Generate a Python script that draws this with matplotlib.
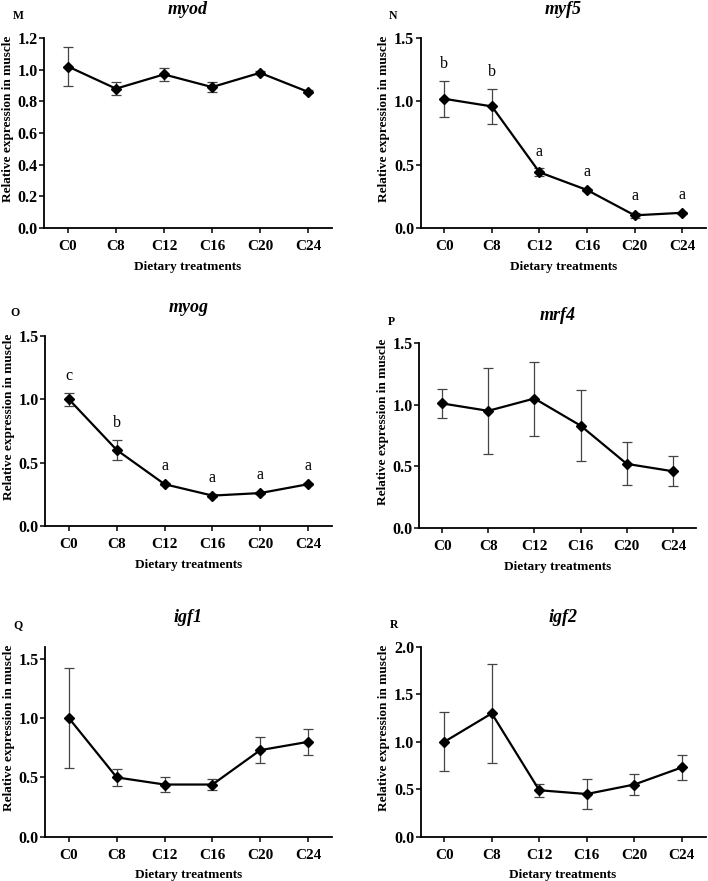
import matplotlib
matplotlib.use("Agg")
import matplotlib.pyplot as plt
from matplotlib.ticker import FormatStrFormatter, MultipleLocator

plt.rcParams['font.family'] = ['Liberation Serif', 'DejaVu Serif']

categories = ['C0', 'C8', 'C12', 'C16', 'C20', 'C24']

myod_mean = [1.02, 0.88, 0.97, 0.89, 0.98, 0.86]
myod_err = [0.12, 0.04, 0.04, 0.03, 0.01, 0.01]

myf5_mean = [1.02, 0.96, 0.44, 0.30, 0.10, 0.12]
myf5_err = [0.14, 0.14, 0.03, 0.01, 0.02, 0.01]
myf5_letters = ['b', 'b', 'a', 'a', 'a', 'a']

myog_mean = [1.00, 0.60, 0.33, 0.24, 0.26, 0.33]
myog_err = [0.05, 0.08, 0.01, 0.01, 0.01, 0.01]
myog_letters = ['c', 'b', 'a', 'a', 'a', 'a']

mrf4_mean = [1.01, 0.95, 1.05, 0.83, 0.52, 0.46]
mrf4_err = [0.115, 0.35, 0.30, 0.285, 0.175, 0.12]

igf1_mean = [1.00, 0.50, 0.44, 0.44, 0.73, 0.80]
igf1_err = [0.42, 0.07, 0.065, 0.05, 0.11, 0.11]

igf2_mean = [1.00, 1.30, 0.49, 0.45, 0.55, 0.73]
igf2_err = [0.31, 0.52, 0.07, 0.16, 0.11, 0.13]

W, H = 708, 881
fig = plt.figure(figsize=(W / 100, H / 100), dpi=100)


def rect(left, right, top, bottom):
    return [left / W, 1 - bottom / H, (right - left) / W, (bottom - top) / H]


panels = [
    ('M', 'myod', myod_mean, myod_err, None, 1.2, 0.2, (44, 332, 38, 228), (18, 16), 9),
    ('N', 'myf5', myf5_mean, myf5_err, myf5_letters, 1.5, 0.5, (420.5, 706, 38, 228), (393, 16), 9),
    ('O', 'myog', myog_mean, myog_err, myog_letters, 1.5, 0.5, (45, 332, 336, 526), (15, 313), 307),
    ('P', 'mrf4', mrf4_mean, mrf4_err, None, 1.5, 0.5, (419, 696, 343, 528), (391, 322), 315),
    ('Q', 'igf1', igf1_mean, igf1_err, None, 1.6, 0.5, (45, 332, 647, 836.7), (18, 625), 617),
    ('R', 'igf2', igf2_mean, igf2_err, None, 2.0, 0.5, (420.5, 705.5, 647, 836.7), (394, 625), 618),
]

x = list(range(len(categories)))

for letter, title, mean, err, sig, ytop, ystep, r, lp, ty in panels:
    ax = fig.add_axes(rect(*r))
    ax.errorbar(x, mean, yerr=err, fmt='none', ecolor='#444444', elinewidth=0.9,
                capsize=3.5, capthick=0.9, zorder=2)
    ax.plot(x, mean, color='black', lw=1.6, marker='D', markersize=5,
            markerfacecolor='black', markeredgecolor='black', zorder=3)
    ax.set_xlim(-0.5, len(categories) - 0.5)
    ax.set_ylim(0, ytop)
    ax.yaxis.set_major_locator(MultipleLocator(ystep))
    ax.yaxis.set_major_formatter(FormatStrFormatter('%.1f'))
    ax.set_xticks(x)
    ax.set_xticklabels(categories)
    for s in ['top', 'right']:
        ax.spines[s].set_visible(False)
    for s in ['left', 'bottom']:
        ax.spines[s].set_linewidth(1.3)
    ax.tick_params(axis='both', direction='out', length=3.6, width=1.1)
    ax.tick_params(axis='y', pad=0.8, labelsize=11.5)
    ax.tick_params(axis='x', pad=5.0, labelsize=11)
    for lab in ax.get_xticklabels() + ax.get_yticklabels():
        lab.set_fontweight('bold')
    ax.set_ylabel('Relative expression in muscle', fontsize=9.5, fontweight='bold', va='center')
    ax.yaxis.set_label_coords(-36 / (r[1] - r[0]), 0.575)
    ax.set_xlabel('Dietary treatments', fontsize=9.5, fontweight='bold', labelpad=5.5)
    if sig is not None:
        for xi, m, e, s in zip(x, mean, err, sig):
            ax.text(xi, m + e + 0.1, s, ha='center', va='baseline', fontsize=11.5)
    cx = (r[0] + r[1]) / 2
    fig.text(cx / W, 1 - ty / H, title, ha='center', va='center', fontsize=13,
             fontweight='bold', fontstyle='italic')
    fig.text(lp[0] / W, 1 - lp[1] / H, letter, ha='center', va='center', fontsize=8.5,
             fontweight='bold')

fig.savefig('out.png', dpi=100)
